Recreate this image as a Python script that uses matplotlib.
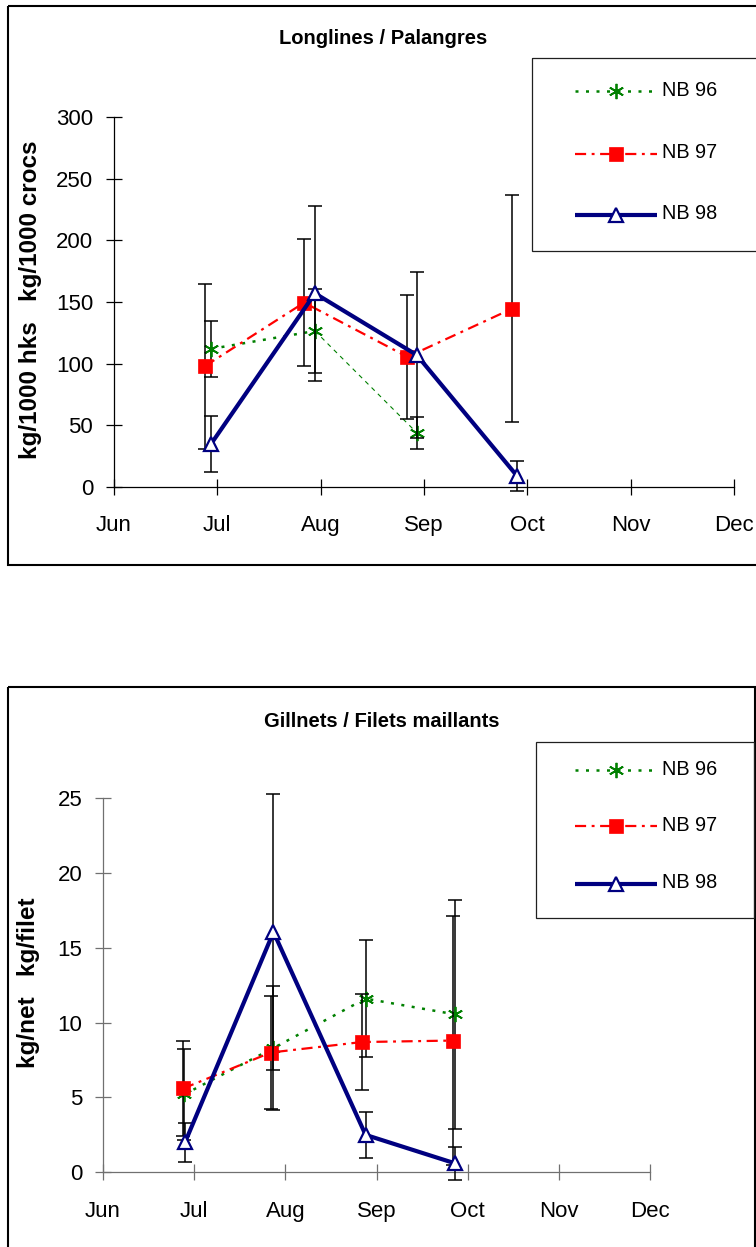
import numpy as np
import matplotlib

matplotlib.use("Agg")
import matplotlib.pyplot as plt
from matplotlib.patches import Rectangle

plt.rcParams["font.family"] = ["Liberation Sans", "DejaVu Sans"]

W, H = 756, 1247

# ---- data -------------------------------------------------------------------
months = ["Jun", "Jul", "Aug", "Sep", "Oct", "Nov", "Dec"]
series_names = ["NB 96", "NB 97", "NB 98"]

# Longlines / Palangres (kg/1000 hooks); x = months after 1 June
ll_96_x = [0.94, 1.945, 2.93]
ll_96_y = [112, 126.5, 44]
ll_96_err = [23, 34, 13]
ll_97_x = [0.88, 1.84, 2.84, 3.85]
ll_97_y = [98, 149.5, 105.5, 144.5]
ll_97_err = [67, 51.5, 50.5, 92]
ll_98_x = [0.94, 1.945, 2.93, 3.90]
ll_98_y = [35, 157, 107, 9]
ll_98_err = [22.5, 71, 67, 12]
ll_yticks = [0, 50, 100, 150, 200, 250, 300]

# Gillnets / Filets maillants (kg/net)
gn_96_x = [0.89, 1.87, 2.88, 3.86]
gn_96_y = [5.2, 8.3, 11.6, 10.55]
gn_96_err = [3.05, 4.15, 3.9, 7.65]
gn_97_x = [0.88, 1.84, 2.84, 3.84]
gn_97_y = [5.6, 8.0, 8.7, 8.8]
gn_97_err = [3.2, 3.75, 3.2, 8.3]
gn_98_x = [0.90, 1.87, 2.88, 3.86]
gn_98_y = [2.0, 16.05, 2.5, 0.6]
gn_98_err = [1.3, 9.2, 1.55, 1.1]
gn_yticks = [0, 5, 10, 15, 20, 25]

# ---- styles -----------------------------------------------------------------
GREEN, RED, NAVY = "#008000", "#ff0000", "#000080"
STYLES = [
    dict(color=GREEN, lw=1.8, dashes=(1.2, 3.0), marker=(6, 2, 0), ms=11,
         mfc=GREEN, mec=GREEN, mew=1.3),
    dict(color=RED, lw=1.6, dashes=(5, 2.5, 1.3, 2.5), marker="s", ms=10,
         mfc=RED, mec=RED, mew=0.5),
    dict(color=NAVY, lw=3.0, dashes=(None, None), marker="^", ms=10,
         mfc="white", mec=NAVY, mew=1.6),
]


def px_axes(fig, left, top, right, bottom):
    return fig.add_axes([left / W, 1 - bottom / H, (right - left) / W, (bottom - top) / H])


def style_axes(ax, ymax, yticks, spine_color):
    ax.set_xlim(0, 6)
    ax.set_ylim(0, ymax)
    ax.set_xticks(range(len(months)))
    ax.set_xticklabels(months)
    ax.set_yticks(yticks)
    for s in ("top", "right"):
        ax.spines[s].set_visible(False)
    for s in ("left", "bottom"):
        ax.spines[s].set_color(spine_color)
        ax.spines[s].set_linewidth(0.9)
    ax.tick_params(direction="inout", length=11, width=0.9, color=spine_color,
                   labelsize=16, labelcolor="black")
    ax.tick_params(axis="x", pad=15)
    ax.tick_params(axis="y", pad=9.5)
    ax.patch.set_visible(False)


def draw_series(ax, x, y, err, st, z, thin_from=None):
    ax.errorbar(x, y, yerr=err, fmt="none", ecolor="black", elinewidth=1.1,
                capsize=4.8, capthick=1.1, clip_on=False, zorder=z)
    line_kw = dict(color=st["color"], lw=st["lw"], clip_on=False, zorder=z + 0.5,
                   solid_capstyle="butt")
    if st["dashes"][0] is not None:
        line_kw["dashes"] = st["dashes"]
    if thin_from is None:
        ax.plot(x, y, **line_kw)
    else:
        ax.plot(x[: thin_from + 1], y[: thin_from + 1], **line_kw)
        thin = dict(line_kw, lw=0.8, dashes=(4, 4))
        ax.plot(x[thin_from:], y[thin_from:], **thin)
    ax.plot(x, y, ls="none", marker=st["marker"], ms=st["ms"], mfc=st["mfc"],
            mec=st["mec"], mew=st["mew"], clip_on=False, zorder=z + 1)


def draw_key(ov, box, line_ys, text_ys):
    x0, y0, x1, y1 = box
    ov.add_patch(Rectangle((x0, y0), x1 - x0, y1 - y0, fill=False, ec="#202020", lw=0.9))
    for st, ly, ty, name in zip(STYLES, line_ys, text_ys, series_names):
        kw = dict(color=st["color"], lw=st["lw"], solid_capstyle="butt")
        if st["dashes"][0] is not None:
            kw["dashes"] = st["dashes"]
        ov.plot([575, 657], [ly, ly], **kw)
        ov.plot([616], [ly], ls="none", marker=st["marker"], ms=st["ms"],
                mfc=st["mfc"], mec=st["mec"], mew=st["mew"])
        ov.text(662, ty, name, fontsize=14.3, va="baseline", ha="left")


fig = plt.figure(figsize=(W / 100, H / 100), dpi=100)

# ---- Longlines panel --------------------------------------------------------
ax1 = px_axes(fig, 114, 117, 734, 487)
style_axes(ax1, 300, ll_yticks, "black")
draw_series(ax1, ll_96_x, ll_96_y, ll_96_err, STYLES[0], 2, thin_from=1)
draw_series(ax1, ll_97_x, ll_97_y, ll_97_err, STYLES[1], 4)
draw_series(ax1, ll_98_x, ll_98_y, ll_98_err, STYLES[2], 6)

# ---- Gillnets panel ---------------------------------------------------------
ax2 = px_axes(fig, 103, 798, 650, 1172.3)
style_axes(ax2, 25, gn_yticks, "#707070")
draw_series(ax2, gn_96_x, gn_96_y, gn_96_err, STYLES[0], 2)
draw_series(ax2, gn_97_x, gn_97_y, gn_97_err, STYLES[1], 4)
draw_series(ax2, gn_98_x, gn_98_y, gn_98_err, STYLES[2], 6)

# ---- frames, titles, axis labels and keys in pixel coordinates ---------------
ov = fig.add_axes([0, 0, 1, 1])
ov.set_xlim(0, W)
ov.set_ylim(H, 0)
ov.axis("off")

ov.add_patch(Rectangle((8, 6), 780, 559, fill=False, ec="black", lw=1.5))
ov.add_patch(Rectangle((8, 687), 747, 600, fill=False, ec="black", lw=1.5))

ov.text(383, 44, "Longlines / Palangres", fontsize=14.5, fontweight="bold",
        ha="center", va="baseline")
ov.text(382, 727, "Gillnets / Filets maillants", fontsize=14.5, fontweight="bold",
        ha="center", va="baseline")

ov.text(31, 300, "kg/1000 hks   kg/1000 crocs", fontsize=17.5, fontweight="bold",
        rotation=90, ha="center", va="center")
ov.text(29, 983, "kg/net   kg/filet", fontsize=17.5, fontweight="bold",
        rotation=90, ha="center", va="center")

draw_key(ov, (532, 58, 800, 251), [90.7, 154, 215], [95.7, 158.3, 219.3])
draw_key(ov, (536, 742, 754, 918), [770, 825.7, 884], [775, 830.7, 888.3])

fig.savefig("out.png", dpi=100)
